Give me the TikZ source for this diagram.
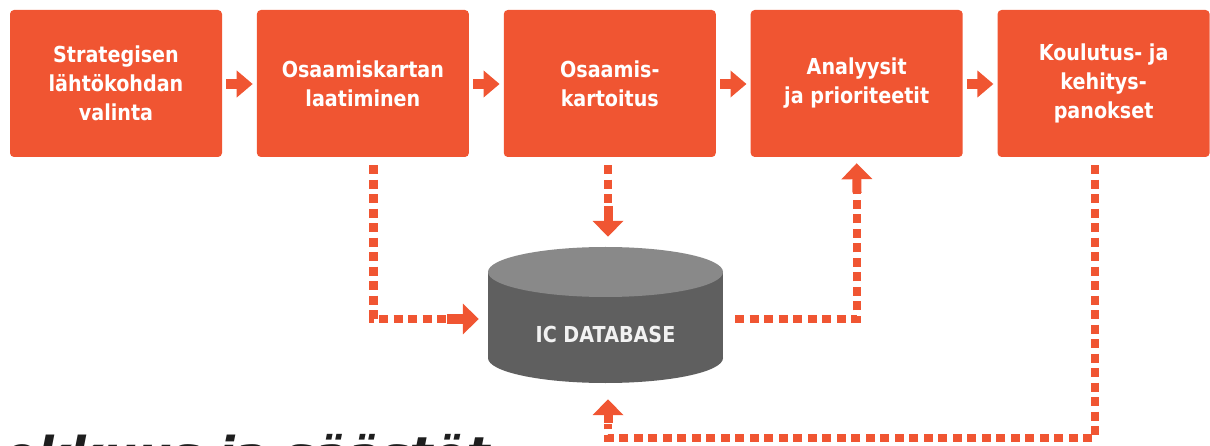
\documentclass[tikz,border=0pt]{standalone}
\usepackage{fontspec}
\newfontfamily\boxfont{DejaVu Sans}[FakeStretch=0.87]
\newfontfamily\capfont{DejaVu Sans}[FakeStretch=1.02]
\usetikzlibrary{arrows.meta}
\definecolor{orng}{HTML}{F05532}
\definecolor{dbside}{HTML}{5F5F5F}
\definecolor{dbtop}{HTML}{898989}
\definecolor{dbtext}{HTML}{F2F2F2}
\definecolor{captext}{HTML}{1E1E1E}
\begin{document}
\begin{tikzpicture}[x=1pt,y=-1pt,
  stepbox/.style={fill=orng, rounded corners=4pt, minimum width=212pt, minimum height=147pt,
    inner sep=0pt, text=white, align=center,
    font=\boxfont\bfseries\fontsize{22pt}{29pt}\selectfont},
  flowarrow/.style={orng, line width=10pt, -{Triangle[width=26pt,length=16pt]}},
  dotline/.style={orng, line width=8.5pt, dash pattern=on 9pt off 5.5pt},
  dottip/.style={orng, line width=9pt, -{Triangle[width=30pt,length=16pt]}},
  dbbox/.style={minimum width=235pt, minimum height=136pt, inner sep=0pt},
  dblabel/.style={text=dbtext, font=\boxfont\bfseries\fontsize{22pt}{26pt}\selectfont, inner sep=0pt},
  captionstyle/.style={anchor=base east, text=captext, inner sep=0pt,
    font=\capfont\bfseries\itshape\fontsize{48pt}{48pt}\selectfont}
]
\useasboundingbox (0,0) rectangle (1210,446);
\clip (0,0) rectangle (1210,446);

% process boxes
\node[stepbox] (b1) at (116,83.5) {Strategisen\\lähtökohdan\\valinta};
\node[stepbox] (b2) at (362.9,83.5) {Osaamiskartan\\laatiminen};
\node[stepbox] (b3) at (609.8,83.5) {Osaamis-\\kartoitus};
\node[stepbox] (b4) at (856.7,83.5) {Analyysit\\ja prioriteetit};
\node[stepbox] (b5) at (1103.6,83.5) {Koulutus- ja\\kehitys-\\panokset};

% flow arrows
\draw[flowarrow] ([xshift=4pt,yshift=-0.5pt]b1.east) -- ([xshift=-4pt,yshift=-0.5pt]b2.west);
\draw[flowarrow] ([xshift=4pt,yshift=-0.5pt]b2.east) -- ([xshift=-4pt,yshift=-0.5pt]b3.west);
\draw[flowarrow] ([xshift=4pt,yshift=-0.5pt]b3.east) -- ([xshift=-4pt,yshift=-0.5pt]b4.west);
\draw[flowarrow] ([xshift=4pt,yshift=-0.5pt]b4.east) -- ([xshift=-4pt,yshift=-0.5pt]b5.west);

% database cylinder
\node[dbbox] (db) at (605.5,315) {};
\fill[dbside] (488,272) rectangle (723,358);
\fill[dbside] (605.5,358) ellipse [x radius=117.5pt, y radius=25pt];
\fill[dbtop] (605.5,272) ellipse [x radius=117.5pt, y radius=25pt];
\node[dblabel] (dbl) at (605.5,334) {IC DATABASE};

% connector: b2 -> db
\coordinate (k1) at (447,319);
\draw[dotline] ([xshift=10.5pt,yshift=-8pt]b2.south) |- (k1);
\draw[dottip] (k1) -- ([shift={(-9pt,-4pt)}]db.west);

% connector: b3 -> db
\coordinate (k2) at (608,207);
\draw[dotline] ([xshift=-1.8pt,yshift=-8pt]b3.south) -- (k2);
\draw[dottip] ([yshift=1pt]k2) -- ([shift={(2.5pt,10pt)}]db.north);

% connector: db -> b4
\coordinate (k3) at (857,192);
\draw[dotline] ([shift={(12pt,-4pt)}]db.east) -| (k3);
\draw[dottip] ([yshift=-1pt]k3) -- ([yshift=-6pt]b4.south);

% connector: b5 -> db
\coordinate (c4) at (608,438);
\coordinate (k4) at (608,424);
\draw[dotline] ([shift={(-8.6pt,-8pt)}]b5.south) |- (c4) -- (k4);
\draw[dottip] ([yshift=1pt]k4) -- ([shift={(2.5pt,-16pt)}]db.south);

% clipped caption
\node[captionstyle] (cap) at (490,471) {okkuus ja säästöt};
\end{tikzpicture}
\end{document}
